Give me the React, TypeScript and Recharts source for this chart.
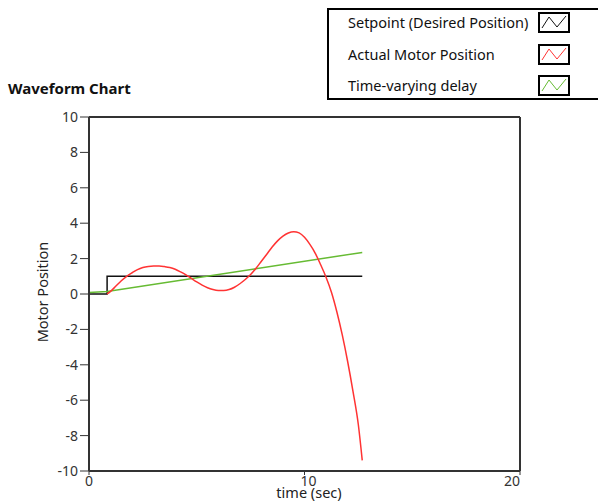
import React from 'react';
import { LineChart, Line, XAxis, YAxis, ReferenceLine } from 'recharts';

const setpointT = [0, 0.84, 0.84, 12.68];
const setpointV = [0, 0, 1, 1];

const delayT = [0, 0.84, 12.68];
const delayV = [0.08, 0.14, 2.35];

const motorT = [0.84, 1.0, 1.25, 1.5, 1.75, 2.0, 2.25, 2.5, 2.75, 3.0, 3.25, 3.5, 3.75, 4.0, 4.25, 4.5, 4.75, 5.0, 5.25, 5.5, 5.75, 6.0, 6.25, 6.5, 6.75, 7.0, 7.25, 7.5, 7.75, 8.0, 8.25, 8.5, 8.75, 9.0, 9.25, 9.5, 9.75, 10.0, 10.25, 10.5, 10.75, 11.0, 11.25, 11.5, 11.75, 12.0, 12.25, 12.5, 12.68];
const motorV = [0, 0.15, 0.45, 0.75, 1.0, 1.2, 1.38, 1.5, 1.56, 1.58, 1.58, 1.55, 1.5, 1.4, 1.25, 1.08, 0.88, 0.68, 0.5, 0.35, 0.25, 0.2, 0.2, 0.25, 0.38, 0.58, 0.82, 1.1, 1.45, 1.85, 2.25, 2.65, 3.0, 3.27, 3.45, 3.52, 3.45, 3.2, 2.8, 2.3, 1.65, 0.95, 0.1, -1.0, -2.3, -3.8, -5.5, -7.4, -9.4];

const xTicks = [0, 10, 20];
const yTicks = [-10, -8, -6, -4, -2, 0, 2, 4, 6, 8, 10];

const legendNames = ['Setpoint (Desired Position)', 'Actual Motor Position', 'Time-varying delay'];
const colors = ['#111111', '#ff3333', '#66bb33'];

const toRows = (ts: number[], vs: number[]) => ts.map((t, i) => ({ t, v: vs[i] }));
const setpointData = toRows(setpointT, setpointV);
const delayData = toRows(delayT, delayV);
const motorData = toRows(motorT, motorV);

const FONT = '"Noto Sans", "DejaVu Sans", sans-serif';

const XTick = (props: any) => {
  const { x, y, payload } = props;
  const v = payload.value;
  let anchor: any = 'middle';
  let dx = 0;
  if (v === 10) dx = 4;
  if (v === 20) anchor = 'end';
  return (
    <text x={x + dx} y={y} dy="0.71em" textAnchor={anchor} fontSize={14} fill="#333" fontFamily={FONT}>
      {v}
    </text>
  );
};

const YTick = (props: any) => {
  const { x, y, payload } = props;
  return (
    <text x={x} y={y} dy="0.35em" textAnchor="end" fontSize={14} fill="#333" fontFamily={FONT}>
      {payload.value}
    </text>
  );
};

const Swatch = ({ color }: { color: string }) => (
  <svg width={32} height={21} style={{ position: 'absolute', left: 0, top: 0 }}>
    <rect x={1} y={1} width={30} height={19} fill="#fff" stroke="#000" strokeWidth={2} />
    <polyline points="4,16 11,5 19,15 28,4" fill="none" stroke={color} strokeWidth={1} />
  </svg>
);

export default function App() {
  const rowsY = [10, 42, 73];
  return (
    <div style={{ position: 'absolute', left: 0, top: 0, width: 598, height: 501, background: '#fff', overflow: 'hidden', fontFamily: FONT }}>
      <LineChart
        width={598}
        height={501}
        margin={{ top: 117, right: 78, bottom: 0, left: 29 }}
        style={{ position: 'absolute', left: 0, top: 0 }}
      >
        <XAxis
          dataKey="t"
          type="number"
          domain={[0, 20]}
          ticks={xTicks}
          allowDuplicatedCategory={false}
          height={30}
          tickSize={4}
          tickMargin={1}
          tick={<XTick />}
          axisLine={{ stroke: '#333', strokeWidth: 2 }}
          tickLine={{ stroke: '#333' }}
        />
        <YAxis
          dataKey="v"
          type="number"
          domain={[-10, 10]}
          ticks={yTicks}
          width={60}
          tickSize={9}
          tickMargin={2}
          tick={<YTick />}
          axisLine={{ stroke: '#333', strokeWidth: 2 }}
          tickLine={{ stroke: '#333' }}
        />
        <ReferenceLine y={10} stroke="#333" strokeWidth={2} ifOverflow="visible" />
        <ReferenceLine x={20} stroke="#333" strokeWidth={2} ifOverflow="visible" />
        <Line data={setpointData} dataKey="v" type="linear" stroke={colors[0]} strokeWidth={1.5} dot={false} isAnimationActive={false} />
        <Line data={delayData} dataKey="v" type="linear" stroke={colors[2]} strokeWidth={1.5} dot={false} isAnimationActive={false} />
        <Line data={motorData} dataKey="v" type="monotone" stroke={colors[1]} strokeWidth={1.5} dot={false} isAnimationActive={false} />
      </LineChart>

      <div style={{ position: 'absolute', left: 8, top: 78, fontSize: 15, fontWeight: 700, color: '#111', whiteSpace: 'nowrap' }}>Waveform Chart</div>

      <div style={{ position: 'absolute', left: 42, top: 292, transform: 'translate(-50%, -50%) rotate(-90deg)', fontSize: 14.5, color: '#222', whiteSpace: 'nowrap' }}>Motor Position</div>

      <div style={{ position: 'absolute', left: 309, top: 492, transform: 'translate(-50%, -50%)', fontSize: 14.5, color: '#222', whiteSpace: 'nowrap', lineHeight: '16px' }}>time (sec)</div>

      <div style={{ position: 'absolute', left: 327, top: 8, width: 280, height: 88, border: '2px solid #000', background: '#fff' }}>
        {legendNames.map((name, i) => (
          <React.Fragment key={name}>
            <div style={{ position: 'absolute', left: 19, top: rowsY[i] - 8, fontSize: 14.5, color: '#111', whiteSpace: 'nowrap', lineHeight: '20px' }}>{name}</div>
            <div style={{ position: 'absolute', left: 209, top: rowsY[i] - 8, width: 32, height: 21 }}>
              <Swatch color={colors[i]} />
            </div>
          </React.Fragment>
        ))}
      </div>
    </div>
  );
}
